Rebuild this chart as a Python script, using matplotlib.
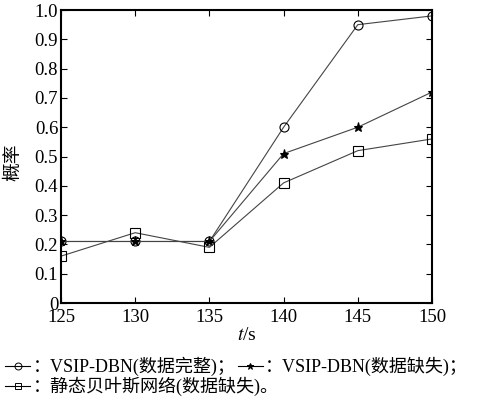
import matplotlib
matplotlib.use('Agg')
import matplotlib.pyplot as plt
from matplotlib.lines import Line2D

plt.rcParams['font.family'] = ['Liberation Serif', 'Noto Sans CJK SC']
plt.rcParams['mathtext.fontset'] = 'stix'

# 数据
t = [125, 130, 135, 140, 145, 150]
p_full = [0.21, 0.21, 0.21, 0.60, 0.95, 0.98]
p_missing = [0.21, 0.21, 0.21, 0.51, 0.60, 0.72]
p_static = [0.16, 0.24, 0.19, 0.41, 0.52, 0.56]

fig = plt.figure(figsize=(5.02, 3.96), dpi=100)
ax = fig.add_axes([0.1215, 0.2348, 0.7391, 0.7399])

line_kw = dict(color='#444444', linewidth=0.8, markersize=6.5,
               markeredgecolor='black', markeredgewidth=0.8)
ax.plot(t, p_full, marker='o', markerfacecolor='none', **line_kw)
ax.plot(t, p_missing, marker='*', markerfacecolor='black', **line_kw)
ax.plot(t, p_static, marker='s', markerfacecolor='none', **line_kw)

ax.set_xlim(125, 150)
ax.set_ylim(0, 1.0)
ax.set_xticks(t)
ax.set_xticklabels([str(v) for v in t])
yt = [i / 10 for i in range(11)]
ax.set_yticks(yt)
ax.set_yticklabels(['0'] + ['%.1f' % v for v in yt[1:]])
ax.tick_params(direction='in', top=True, right=True, labelsize=13.5,
               length=4, width=0.8)
ax.tick_params(axis='x', pad=4)
ax.tick_params(axis='y', pad=2)
for s in ax.spines.values():
    s.set_linewidth(1.5)

ax.set_xlabel('$t$/s', fontsize=14, labelpad=1)
ax.set_ylabel('概率', fontsize=13.5)
ax.yaxis.set_label_coords(-0.103, 0.48)

# 图例（图下方文字说明）
fs = 13
fig.canvas.draw()
renderer = fig.canvas.get_renderer()
W = fig.get_figwidth() * fig.dpi

def legend_sym(x, y, marker, fill):
    fig.add_artist(Line2D([x, x + 0.05], [y, y], transform=fig.transFigure,
                          color='black', linewidth=0.8))
    fig.add_artist(Line2D([x + 0.025], [y], transform=fig.transFigure,
                          marker=marker, markersize=5, markerfacecolor=fill,
                          markeredgecolor='black', markeredgewidth=0.7,
                          linestyle='none'))
    return x + 0.055

y1, y2 = 1 - 366 / 396, 1 - 386 / 396
x = legend_sym(0.01, y1, 'o', 'none')
txt = fig.text(x, y1, '：VSIP-DBN(数据完整)；', fontsize=fs, va='center')
x = txt.get_window_extent(renderer).x1 / W
x = legend_sym(x + 0.004, y1, '*', 'black')
fig.text(x, y1, '：VSIP-DBN(数据缺失)；', fontsize=fs, va='center')
x = legend_sym(0.01, y2, 's', 'none')
fig.text(x, y2, '：静态贝叶斯网络(数据缺失)。', fontsize=fs, va='center')

fig.savefig('out.png', dpi=100)
